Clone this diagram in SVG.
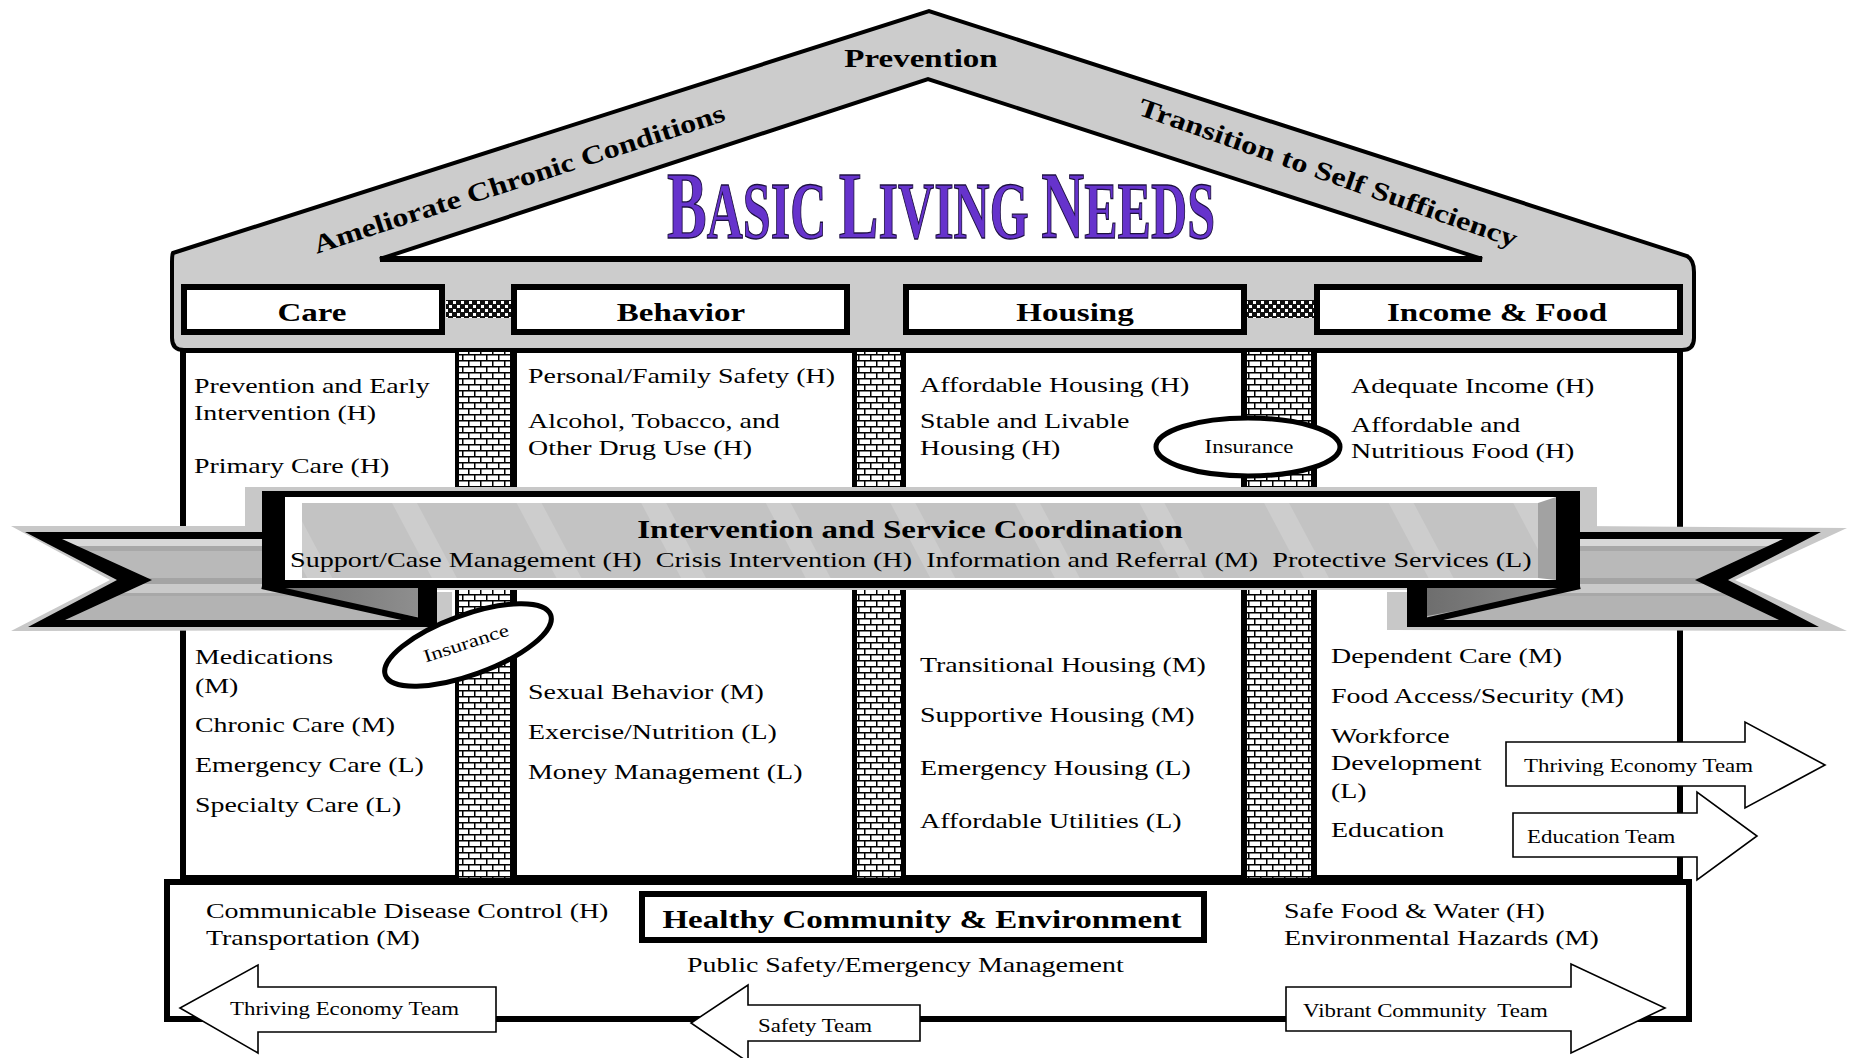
<svg xmlns="http://www.w3.org/2000/svg" width="1850" height="1058" viewBox="0 0 1850 1058">
<style>
text{font-family:"Liberation Serif","Times New Roman",serif;fill:#000}
.t{font-size:22px}
.s{font-size:18px}
.b{font-size:26px;font-weight:bold}
.m{text-anchor:middle}
.blk{fill:#000}
.arrow{fill:#fff;stroke:#000;stroke-width:1.6}
.box{fill:#fff;stroke:#000;stroke-width:6}
.ell{fill:#fff;stroke:#000;stroke-width:5}
.title{font-weight:bold;fill:#6633cc;stroke:#1d1040;stroke-width:1.3}
</style>
<defs>
<pattern id="brick" width="12" height="12" patternUnits="userSpaceOnUse">
<rect width="12" height="12" fill="#fff"/>
<path d="M0 0.75H12M0 6.75H12M0.75 0V6M6.75 6V12" stroke="#000" stroke-width="1.5"/>
</pattern>
<pattern id="check" width="8" height="8" patternUnits="userSpaceOnUse">
<rect width="8" height="8" fill="#111"/>
<rect x="1" y="1" width="3" height="3" fill="#fff"/>
<rect x="5" y="5" width="3" height="3" fill="#fff"/>
</pattern>
<pattern id="diag" width="110" height="110" patternUnits="userSpaceOnUse" patternTransform="rotate(-28)">
<rect width="110" height="110" fill="#c3c3c3"/>
<rect width="22" height="110" fill="#cdcdcd"/>
</pattern>
<linearGradient id="tail" gradientUnits="userSpaceOnUse" x1="0" y1="539" x2="0" y2="621">
<stop offset="0" stop-color="#d8d8d8"/><stop offset="0.09" stop-color="#d8d8d8"/>
<stop offset="0.09" stop-color="#a8a8a8"/><stop offset="0.15" stop-color="#a8a8a8"/>
<stop offset="0.15" stop-color="#b9b9b9"/><stop offset="0.48" stop-color="#b9b9b9"/>
<stop offset="0.48" stop-color="#a4a4a4"/><stop offset="0.55" stop-color="#a4a4a4"/>
<stop offset="0.55" stop-color="#cacaca"/><stop offset="0.66" stop-color="#cacaca"/>
<stop offset="0.66" stop-color="#a8a8a8"/><stop offset="0.7" stop-color="#a8a8a8"/>
<stop offset="0.7" stop-color="#b3b3b3"/><stop offset="1" stop-color="#b3b3b3"/>
</linearGradient>
<linearGradient id="fold" x1="0" y1="0" x2="1" y2="0">
<stop offset="0" stop-color="#6e6e6e"/><stop offset="1" stop-color="#8e8e8e"/>
</linearGradient>
</defs>

<!-- body columns -->
<g id="body">
<rect x="183" y="350" width="1497" height="530" fill="#fff" stroke="#000" stroke-width="6"/>
<rect x="183" y="875" width="1500" height="10" class="blk"/>
</g>

<g id="pillars">
<rect x="455" y="350" width="62" height="528" class="blk"/>
<rect x="459" y="352" width="51" height="526" fill="url(#brick)"/>
<rect x="852" y="350" width="54" height="528" class="blk"/>
<rect x="857" y="352" width="44" height="526" fill="url(#brick)"/>
<rect x="1241" y="350" width="76" height="528" class="blk"/>
<rect x="1247" y="352" width="64" height="526" fill="url(#brick)"/>
</g>

<!-- roof -->
<g id="roof">
<path d="M173,253 L929,11 L1687,256 Q1694,260 1694,272 L1694,338 Q1694,350 1682,350 L184,350 Q172,350 172,338 L172,262 Q172,255 173,253 Z" fill="#cccccc" stroke="#000" stroke-width="4"/>
<path d="M380,259 L928,79 L1482,259 Z" fill="#fff" stroke="#000" stroke-width="4" stroke-linejoin="miter"/>
<line x1="380" y1="259" x2="1482" y2="259" stroke="#000" stroke-width="6"/>
<text class="b m" transform="translate(921,67) scale(1.27,1)">Prevention</text>
<text class="b m" x="519" y="179" dominant-baseline="central" textLength="431" lengthAdjust="spacingAndGlyphs" transform="rotate(-18 519 179)">Ameliorate Chronic Conditions</text>
<text class="b m" x="1328" y="173" dominant-baseline="central" textLength="400" lengthAdjust="spacingAndGlyphs" transform="rotate(19.5 1328 173)">Transition to Self Sufficiency</text>
</g>
<g id="title">
<text class="title" transform="translate(667,238) scale(0.626,1)"><tspan font-size="95">B</tspan><tspan font-size="80">ASIC </tspan><tspan font-size="95">L</tspan><tspan font-size="80">IVING </tspan><tspan font-size="95">N</tspan><tspan font-size="80">EEDS</tspan></text>
</g>

<!-- header boxes -->
<g id="checkers">
<rect x="446" y="300" width="66" height="18" fill="url(#check)"/>
<rect x="1246" y="300" width="70" height="18" fill="url(#check)"/>
</g>
<g id="care-header"><rect x="184" y="287" width="258" height="45" class="box"/><text class="b m" transform="translate(312,321) scale(1.27,1)">Care</text></g>
<g id="behavior-header"><rect x="514" y="287" width="333" height="45" class="box"/><text class="b m" transform="translate(681,321) scale(1.27,1)">Behavior</text></g>
<g id="housing-header"><rect x="906" y="287" width="338" height="45" class="box"/><text class="b m" transform="translate(1075,321) scale(1.27,1)">Housing</text></g>
<g id="income-header"><rect x="1317" y="287" width="363" height="45" class="box"/><text class="b m" transform="translate(1497,321) scale(1.27,1)">Income &amp; Food</text></g>

<!-- upper column texts -->
<g id="care-upper">
<text class="t" transform="translate(194,393) scale(1.27,1)">Prevention and Early</text>
<text class="t" transform="translate(194,420) scale(1.27,1)">Intervention (H)</text>
<text class="t" transform="translate(194,473) scale(1.27,1)">Primary Care (H)</text>
</g>
<g id="behavior-upper">
<text class="t" transform="translate(528,383) scale(1.27,1)">Personal/Family Safety (H)</text>
<text class="t" transform="translate(528,428) scale(1.27,1)">Alcohol, Tobacco, and</text>
<text class="t" transform="translate(528,455) scale(1.27,1)">Other Drug Use (H)</text>
</g>
<g id="housing-upper">
<text class="t" transform="translate(920,392) scale(1.27,1)">Affordable Housing (H)</text>
<text class="t" transform="translate(920,428) scale(1.27,1)">Stable and Livable</text>
<text class="t" transform="translate(920,455) scale(1.27,1)">Housing (H)</text>
</g>
<g id="income-upper">
<text class="t" transform="translate(1351,393) scale(1.27,1)">Adequate Income (H)</text>
<text class="t" transform="translate(1351,432) scale(1.27,1)">Affordable and</text>
<text class="t" transform="translate(1351,458) scale(1.27,1)">Nutritious Food (H)</text>
</g>
<g id="insurance-upper">
<ellipse cx="1248" cy="447" rx="92" ry="29" class="ell"/>
<text class="s m" transform="translate(1249,453) scale(1.27,1)">Insurance</text>
</g>

<!-- banner -->
<g id="banner">
<rect x="245" y="487" width="1352" height="103" fill="#c8c8c8"/>
<polygon points="11,526 262,526 262,592 452,592 452,630 11,631 110,580" fill="#c8c8c8"/>
<polygon points="1580,526 1847,528 1735,580 1847,631 1387,630 1387,592 1580,592" fill="#c8c8c8"/>
<polygon points="25,532 300,532 300,585 437,585 437,627 28,627 117,580" class="blk"/>
<polygon points="62,539 300,539 300,590 418,590 418,620 65,620 152,580" fill="url(#tail)"/>
<polygon points="1550,532 1821,532 1728,580 1819,627 1407,627 1407,585 1550,585" class="blk"/>
<polygon points="1550,539 1783,539 1695,580 1779,620 1427,620 1427,590 1550,590" fill="url(#tail)"/>
<polygon points="262,588 418,588 418,617" fill="url(#fold)"/>
<line x1="262" y1="586" x2="420" y2="621" stroke="#000" stroke-width="6"/>
<polygon points="1427,588 1578,588 1427,616" fill="url(#fold)"/>
<line x1="1580" y1="586" x2="1425" y2="621" stroke="#000" stroke-width="6"/>
<rect x="262" y="491" width="1318" height="97" class="blk"/>
<rect x="285" y="497" width="1271" height="83" fill="#fff"/>
<rect x="302" y="503" width="1236" height="75" fill="url(#diag)"/>
<polygon points="1538,503 1556,497 1556,580 1538,578" fill="#a2a2a2"/>
<text class="b m" transform="translate(910,538) scale(1.27,1)">Intervention and Service Coordination</text>
<text class="t" xml:space="preserve" transform="translate(290,567) scale(1.28,1)">Support/Case Management (H)  Crisis Intervention (H)  Information and Referral (M)  Protective Services (L)</text>
</g>

<g id="insurance-lower">
<ellipse cx="468" cy="645" rx="88" ry="30" class="ell" transform="rotate(-20 468 645)"/>
<text class="s m" x="0" y="0" dominant-baseline="central" transform="translate(466,643) rotate(-18) scale(1.27,1)">Insurance</text>
</g>

<!-- lower column texts -->
<g id="care-lower">
<text class="t" transform="translate(195,664) scale(1.27,1)">Medications</text>
<text class="t" transform="translate(195,693) scale(1.27,1)">(M)</text>
<text class="t" transform="translate(195,732) scale(1.27,1)">Chronic Care (M)</text>
<text class="t" transform="translate(195,772) scale(1.27,1)">Emergency Care (L)</text>
<text class="t" transform="translate(195,812) scale(1.27,1)">Specialty Care (L)</text>
</g>
<g id="behavior-lower">
<text class="t" transform="translate(528,699) scale(1.27,1)">Sexual Behavior (M)</text>
<text class="t" transform="translate(528,739) scale(1.27,1)">Exercise/Nutrition (L)</text>
<text class="t" transform="translate(528,779) scale(1.27,1)">Money Management (L)</text>
</g>
<g id="housing-lower">
<text class="t" transform="translate(920,672) scale(1.27,1)">Transitional Housing (M)</text>
<text class="t" transform="translate(920,722) scale(1.27,1)">Supportive Housing (M)</text>
<text class="t" transform="translate(920,775) scale(1.27,1)">Emergency Housing (L)</text>
<text class="t" transform="translate(920,828) scale(1.27,1)">Affordable Utilities (L)</text>
</g>
<g id="income-lower">
<text class="t" transform="translate(1331,663) scale(1.27,1)">Dependent Care (M)</text>
<text class="t" transform="translate(1331,703) scale(1.27,1)">Food Access/Security (M)</text>
<text class="t" transform="translate(1331,743) scale(1.27,1)">Workforce</text>
<text class="t" transform="translate(1331,770) scale(1.27,1)">Development</text>
<text class="t" transform="translate(1331,798) scale(1.27,1)">(L)</text>
<text class="t" transform="translate(1331,837) scale(1.27,1)">Education</text>
</g>

<!-- foundation -->
<g id="foundation">
<rect x="167" y="882" width="1522" height="137" class="box"/>
<rect x="642" y="894" width="562" height="46" class="box"/>
<text class="b m" transform="translate(922,928) scale(1.27,1)">Healthy Community &amp; Environment</text>
<text class="t" transform="translate(206,918) scale(1.27,1)">Communicable Disease Control (H)</text>
<text class="t" transform="translate(206,945) scale(1.27,1)">Transportation (M)</text>
<text class="t" transform="translate(687,972) scale(1.27,1)">Public Safety/Emergency Management</text>
<text class="t" transform="translate(1284,918) scale(1.27,1)">Safe Food &amp; Water (H)</text>
<text class="t" transform="translate(1284,945) scale(1.27,1)">Environmental Hazards (M)</text>
</g>

<!-- block arrows -->
<g id="arrows">
<g id="arrow-thriving-right">
<polygon points="1506,742 1745,742 1745,722 1825,765 1745,808 1745,786 1506,786" class="arrow"/>
<text class="s" transform="translate(1524,772) scale(1.27,1)">Thriving Economy Team</text>
</g>
<g id="arrow-education">
<polygon points="1513,813 1697,813 1697,792 1757,836 1697,880 1697,857 1513,857" class="arrow"/>
<text class="s" transform="translate(1527,843) scale(1.27,1)">Education Team</text>
</g>
<g id="arrow-thriving-left">
<polygon points="496,987 258,987 258,965 180,1008 258,1053 258,1032 496,1032" class="arrow"/>
<text class="s" transform="translate(230,1015) scale(1.27,1)">Thriving Economy Team</text>
</g>
<g id="arrow-safety">
<polygon points="920,1005 748,1005 748,985 691,1023 748,1062 748,1041 920,1041" class="arrow"/>
<text class="s" transform="translate(758,1032) scale(1.27,1)">Safety Team</text>
</g>
<g id="arrow-vibrant">
<polygon points="1286,987 1571,987 1571,964 1665,1008 1571,1053 1571,1031 1286,1031" class="arrow"/>
<text class="s" xml:space="preserve" transform="translate(1303,1017) scale(1.27,1)">Vibrant Community  Team</text>
</g>
</g>
<g id="connectors"/>
</svg>
